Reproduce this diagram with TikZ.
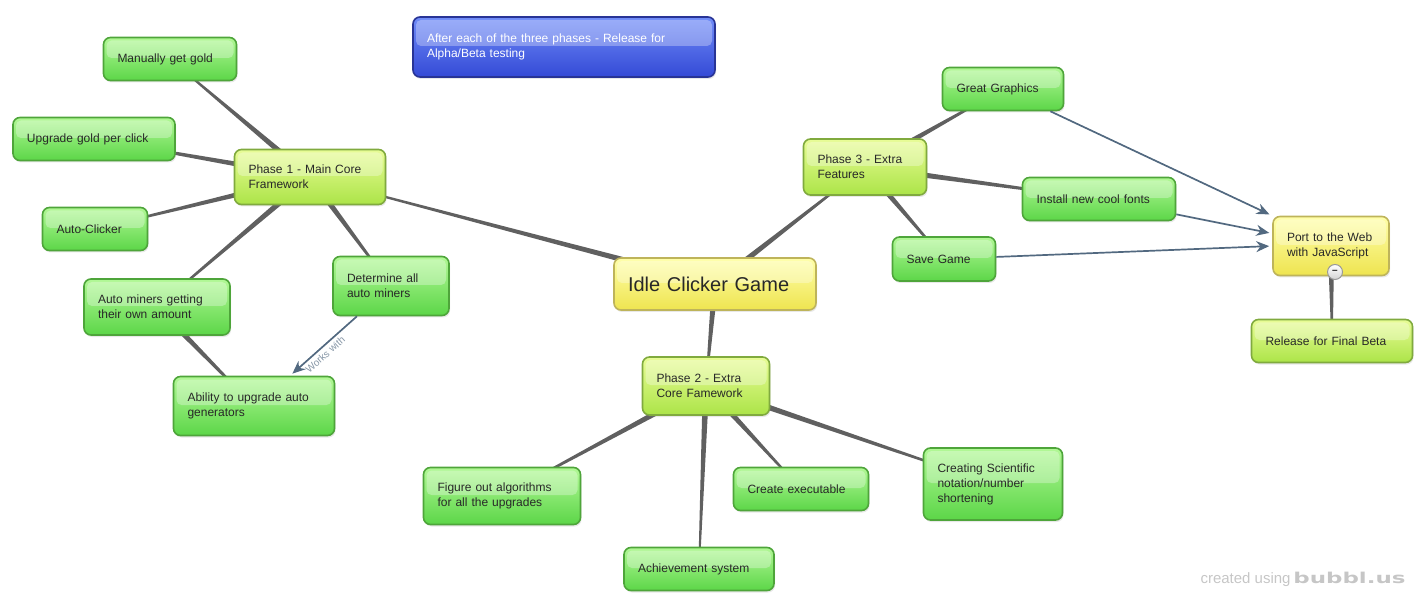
\documentclass[tikz,border=0pt]{standalone}
\usepackage{fontspec}
\setmainfont{Liberation Sans}
\newfontfamily\logofont{DejaVu Sans}
\usetikzlibrary{arrows.meta, shadows, backgrounds, calc}
\hyphenpenalty=10000
\exhyphenpenalty=10000
\definecolor{leaftop}{RGB}{178,248,150}
\definecolor{leafbot}{RGB}{92,214,72}
\definecolor{leafline}{RGB}{78,165,58}
\definecolor{phasetop}{RGB}{232,252,150}
\definecolor{phasebot}{RGB}{172,228,72}
\definecolor{phaseline}{RGB}{128,170,62}
\definecolor{roottop}{RGB}{255,255,170}
\definecolor{rootbot}{RGB}{238,228,80}
\definecolor{rootline}{RGB}{190,180,90}
\definecolor{notetop}{RGB}{112,140,248}
\definecolor{notebot}{RGB}{52,74,214}
\definecolor{noteline}{RGB}{40,52,150}
\definecolor{linkgray}{RGB}{96,96,96}
\definecolor{flowblue}{RGB}{82,105,128}
\definecolor{textdark}{RGB}{40,40,40}

\begin{document}
\begin{tikzpicture}[x=1pt, y=-1pt]
    \tikzstyle{box} = [draw, line width=1.6pt, rounded corners=7pt, align=left,
      inner xsep=14pt, inner ysep=4pt, font=\fontsize{12}{15}\selectfont, text=textdark,
      drop shadow={opacity=0.18, shadow xshift=1pt, shadow yshift=-2pt},
      path picture={\fill[white, opacity=0.3, rounded corners=5pt]
        ([xshift=3pt, yshift=-3pt]path picture bounding box.north west) rectangle
        ([xshift=-3pt, yshift=1pt]path picture bounding box.east);}]
    \tikzstyle{leaf} = [box, draw=leafline, top color=leaftop, bottom color=leafbot, minimum height=43pt]
    \tikzstyle{phase} = [box, draw=phaseline, top color=phasetop, bottom color=phasebot, minimum height=56pt]
    \tikzstyle{root} = [box, draw=rootline, top color=roottop, bottom color=rootbot]
    \tikzstyle{note} = [box, draw=noteline, top color=notetop, bottom color=notebot, text=white, minimum height=60pt]
    \tikzstyle{fold} = [circle, draw=gray!80, line width=1pt, top color=white, bottom color=gray!35,
      inner sep=0pt, minimum size=15pt, text=gray!20!black, font=\fontsize{10}{10}\selectfont\bfseries]
    % tapered link: wide at the parent, narrow at the child
    \tikzstyle{branch} = [to path={
      ($(\tikztostart)!3.2pt!90:(\tikztotarget)$) -- ($(\tikztotarget)!0.7pt!-90:(\tikztostart)$) --
      ($(\tikztotarget)!0.7pt!90:(\tikztostart)$) -- ($(\tikztostart)!3.2pt!-90:(\tikztotarget)$) -- cycle}]
    \tikzstyle{flow} = [draw=flowblue, line width=1.7pt, shorten >=3pt, -{Stealth[length=13pt, width=11pt]}]
    \useasboundingbox (0,0) rectangle (1423,601);

    % centre and phases
    \node[root, font=\fontsize{20}{24}\selectfont, text width=174pt, minimum height=52pt] (game) at (715,284) {Idle Clicker Game};
    \node[note, text width=274pt] (testing) at (564,47) {After each of the three phases - Release for Alpha/Beta testing};
    \node[phase, text width=123pt, minimum height=55pt] (phaseone) at (310,177) {Phase 1 - Main Core Framework};
    \node[phase, text width=99pt, minimum height=58pt] (phasetwo) at (706,386) {Phase 2 - Extra Core Famework};
    \node[phase, text width=95pt] (phasethree) at (865,167) {Phase 3 - Extra Features};

    % phase 1
    \node[leaf, text width=105pt] (gold) at (170,59) {Manually get gold};
    \node[leaf, text width=134pt] (perclick) at (94,139) {Upgrade gold per click};
    \node[leaf, text width=77pt] (autoclick) at (95,229) {Auto-Clicker};
    \node[leaf, text width=118pt, minimum height=56pt] (autominers) at (157,307) {Auto miners getting their own amount};
    \node[leaf, text width=88pt, minimum height=59pt] (determine) at (391,286) {Determine all auto miners};
    \node[leaf, text width=133pt, minimum height=59pt] (ability) at (254,406) {Ability to upgrade auto generators};

    % phase 2
    \node[leaf, text width=129pt, minimum height=57pt] (algos) at (502,496) {Figure out algorithms for all the upgrades};
    \node[leaf, text width=122pt] (achieve) at (699,569) {Achievement system};
    \node[leaf, text width=107pt] (exec) at (801,489) {Create executable};
    \node[leaf, text width=111pt, minimum height=72pt] (notation) at (993,484) {Creating Scientific notation/number shortening};

    % phase 3
    \node[leaf, text width=93pt] (graphics) at (1003,89) {Great Graphics};
    \node[leaf, text width=125pt] (fonts) at (1099,199) {Install new cool fonts};
    \node[leaf, text width=75pt, minimum height=44pt] (save) at (944,259) {Save Game};
    \node[root, text width=88pt, minimum height=59pt] (port) at (1331,246) {Port to the Web with JavaScript};
    \node[phase, text width=133pt, minimum height=43pt] (final) at (1332,341) {Release for Final Beta};
    \node[fold] (collapse) at (1335,272) {--};

    \begin{scope}[on background layer]
      \foreach \item in {phaseone, phasetwo, phasethree}
        \fill[linkgray] (game) to[branch] (\item);
      \foreach \item in {gold, perclick, autoclick, autominers, determine}
        \fill[linkgray] (phaseone) to[branch] (\item);
      \fill[linkgray] (autominers) to[branch] (ability);
      \foreach \item in {algos, achieve, exec, notation}
        \fill[linkgray] (phasetwo) to[branch] (\item);
      \foreach \item in {graphics, fonts, save}
        \fill[linkgray] (phasethree) to[branch] (\item);
      \fill[linkgray] (port) to[branch] (final);
    \end{scope}

    \draw[flow] (determine) -- node[sloped, below, pos=0.55, inner sep=3pt, text=flowblue!70,
      font=\fontsize{10}{10}\selectfont] {Works with} (ability.40);
    \draw[flow] (graphics) -- (port.north west);
    \draw[flow] (fonts) -- (port.168);
    \draw[flow] (save) -- (port.west);

    \node[text=gray!45, font=\fontsize{15}{15}\selectfont, anchor=base west] (credit) at (1197,583) {created using};
    \node[text=gray!45, font=\logofont\bfseries\fontsize{15}{15}\selectfont, xscale=1.53,
      anchor=base west, inner xsep=0pt] (logo) at (1293,583) {bubbl.us};
\end{tikzpicture}
\end{document}
